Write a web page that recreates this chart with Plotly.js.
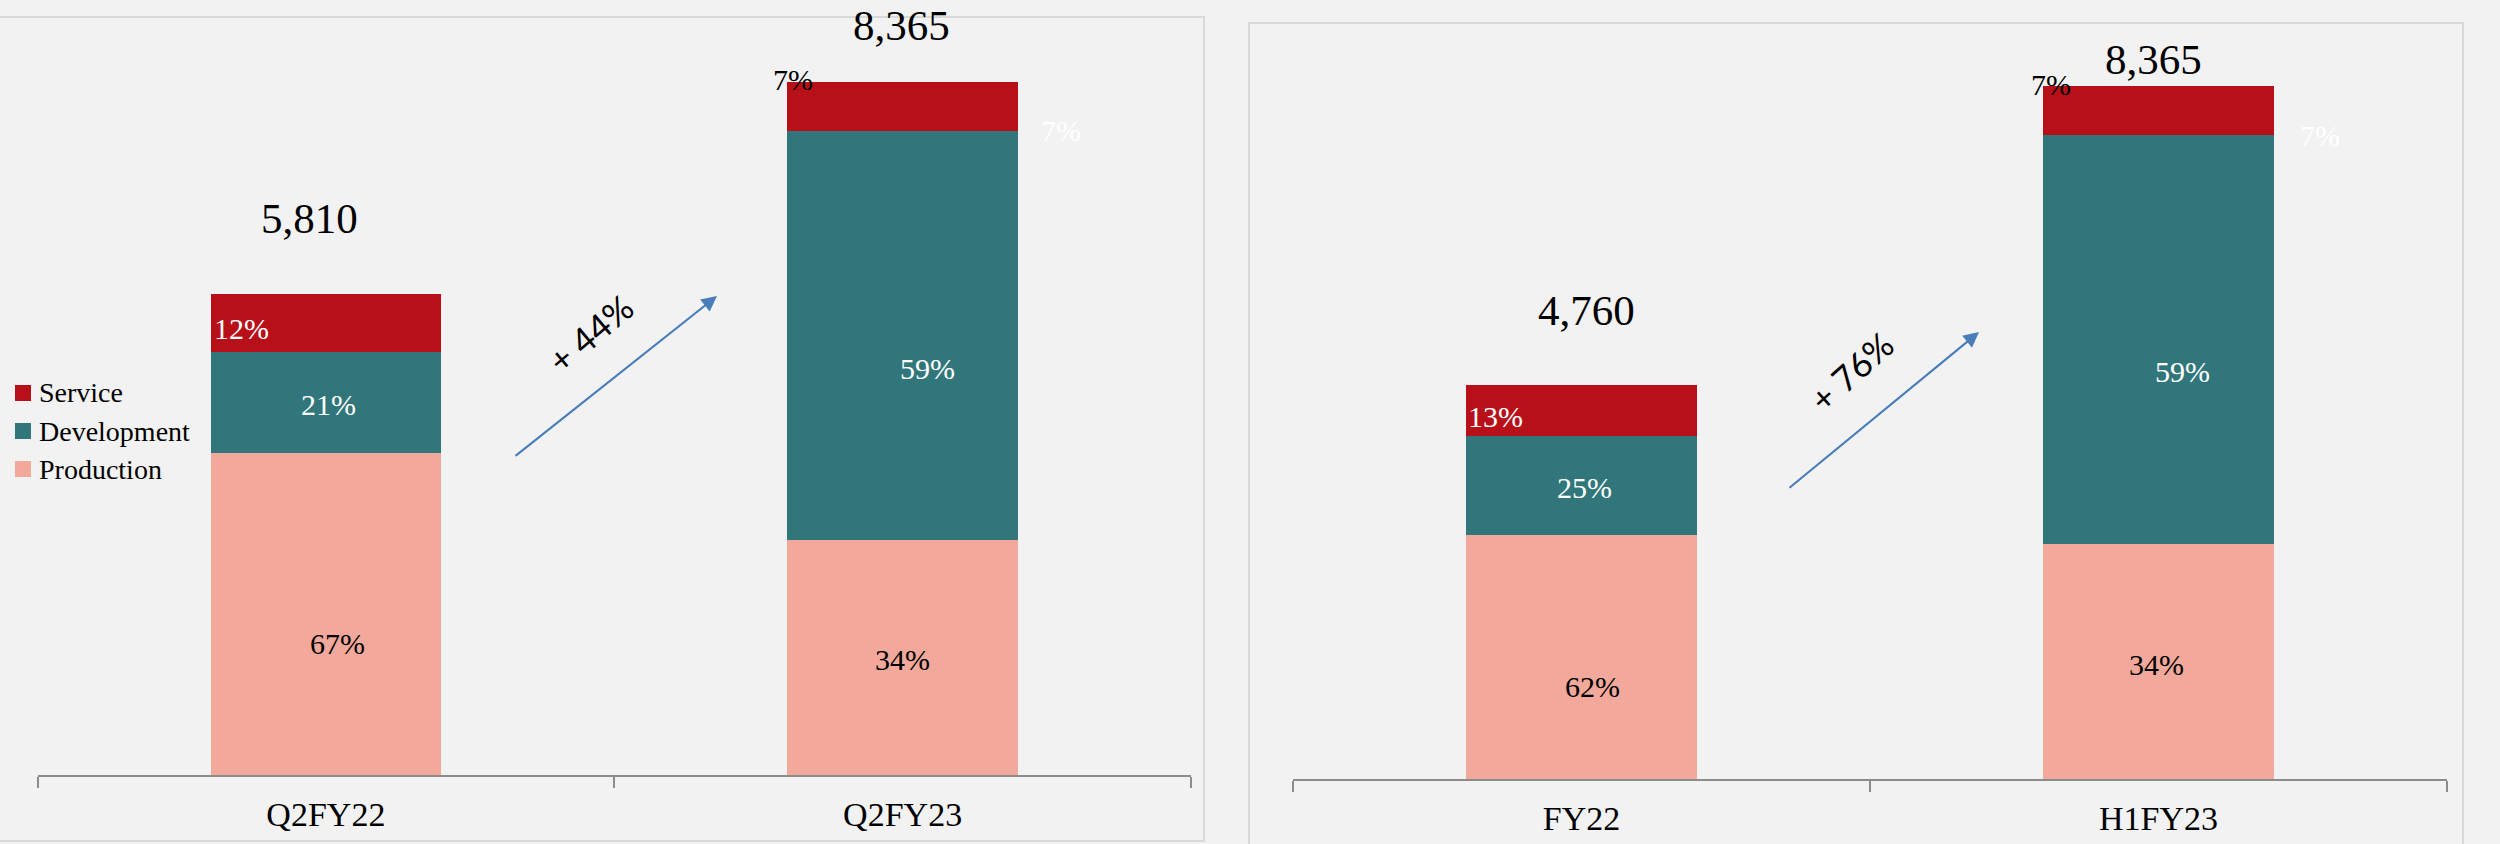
<!DOCTYPE html>
<html>
<head>
<meta charset="utf-8">
<script src="https://cdn.plot.ly/plotly-3.0.1.min.js"></script>
<style>
  html, body { margin: 0; padding: 0; background: #f2f2f2; }
  #chart { width: 2500px; height: 844px; }
</style>
</head>
<body>
<div id="chart"></div>
<script>
// ---- data ----
const seriesNames = ['Production', 'Development', 'Service'];
const categoriesA = ['Q2FY22', 'Q2FY23'];
const totalsA = [5810, 8365];
const productionShareA = [67, 34];
const developmentShareA = [21, 59];
const serviceShareA = [12, 7];
const growthA = '+ 44%';

const categoriesB = ['FY22', 'H1FY23'];
const totalsB = [4760, 8365];
const productionShareB = [62, 34];
const developmentShareB = [25, 59];
const serviceShareB = [13, 7];
const growthB = '+ 76%';

// ---- styles ----
const colors = { Production: '#f2a99b', Development: '#31767b', Service: '#b71018' };
const serif = 'Liberation Serif, Times New Roman, serif';
const sans = 'Lato, Noto Sans, sans-serif';
const W = 2500, H = 844;
const px = x => x / W;
const py = y => 1 - y / H;

function segValues(totals, shares) { return totals.map((t, i) => t * shares[i] / 100); }

function panelTraces(cats, totals, shares, xa, ya) {
  return seriesNames.map((name, k) => ({
    type: 'bar', name: name, x: cats, y: segValues(totals, shares[k]),
    xaxis: xa, yaxis: ya, marker: { color: colors[name], line: { width: 0 } },
    showlegend: false, hoverinfo: 'skip'
  }));
}

const sharesA = [productionShareA, developmentShareA, serviceShareA];
const sharesB = [productionShareB, developmentShareB, serviceShareB];

const data = [
  ...panelTraces(categoriesA, totalsA, sharesA, 'x', 'y'),
  ...panelTraces(categoriesB, totalsB, sharesB, 'x2', 'y2')
];

// label offsets (pixels) per panel / bar / label
const labelStyleA = [
  { prod: [12, -30], dev: [3, -2], serv: [[-84, -6, 'white']], total: [-16, 75] },
  { prod: [0, -2], dev: [25, -33], serv: [[-110, 27, 'black'], [158, -24, 'white']], total: [-1, 57] }
];
const labelStyleB = [
  { prod: [11, -30], dev: [3, -2], serv: [[-86, -6, 'white']], total: [5, 74] },
  { prod: [-2, -3], dev: [24, -32], serv: [[-108, 26, 'black'], [161, -25, 'white']], total: [-5, 27] }
];

function pct(v) { return v + '%'; }

function panelAnnotations(cats, totals, shares, xr, yr, styles) {
  const out = [];
  cats.forEach((c, i) => {
    const vals = shares.map(s => totals[i] * s[i] / 100);
    const st = styles[i];
    const base = { xref: xr, yref: yr, x: c, showarrow: false, xanchor: 'center', yanchor: 'middle' };
    const prodMid = vals[0] / 2;
    const devMid = vals[0] + vals[1] / 2;
    const servMid = vals[0] + vals[1] + vals[2] / 2;
    out.push({ ...base, y: prodMid, text: pct(shares[0][i]), xshift: st.prod[0], yshift: st.prod[1],
      font: { family: serif, size: 30, color: 'black' } });
    out.push({ ...base, y: devMid, text: pct(shares[1][i]), xshift: st.dev[0], yshift: st.dev[1],
      font: { family: serif, size: 30, color: 'white' } });
    st.serv.forEach(s => out.push({ ...base, y: servMid, text: pct(shares[2][i]), xshift: s[0], yshift: s[1],
      font: { family: serif, size: 30, color: s[2] } }));
    out.push({ ...base, y: totals[i], text: totals[i].toLocaleString('en-US'), xshift: st.total[0], yshift: st.total[1],
      font: { family: serif, size: 43, color: 'black' } });
  });
  return out;
}

// custom legend (Service, Development, Production from top)
const legendOrder = seriesNames.slice().reverse();
const legendRowY = [393, 431, 469];
const legendShapes = legendOrder.map((name, i) => ({
  type: 'rect', xref: 'paper', yref: 'paper', layer: 'above',
  x0: px(15), x1: px(31), y0: py(legendRowY[i] + 8), y1: py(legendRowY[i] - 8),
  fillcolor: colors[name], line: { width: 0 }
}));
const legendTexts = legendOrder.map((name, i) => ({
  xref: 'paper', yref: 'paper', x: px(37), y: py(legendRowY[i]), text: name, showarrow: false,
  xanchor: 'left', yanchor: 'middle', font: { family: serif, size: 28, color: 'black' }
}));

const annotations = [
  ...panelAnnotations(categoriesA, totalsA, sharesA, 'x', 'y', labelStyleA),
  ...panelAnnotations(categoriesB, totalsB, sharesB, 'x2', 'y2', labelStyleB),
  ...legendTexts,
  // growth arrows
  { xref: 'paper', yref: 'paper', x: px(717), y: py(296), ax: 514 - 717, ay: 457 - 296, text: '',
    showarrow: true, arrowhead: 2, arrowsize: 1.4, arrowwidth: 2.2, arrowcolor: '#4a7ebb' },
  { xref: 'paper', yref: 'paper', x: px(1979), y: py(332), ax: 1788 - 1979, ay: 489 - 332, text: '',
    showarrow: true, arrowhead: 2, arrowsize: 1.4, arrowwidth: 2.2, arrowcolor: '#4a7ebb' },
  { xref: 'paper', yref: 'paper', x: px(590), y: py(333), text: growthA, showarrow: false, textangle: -40,
    xanchor: 'center', yanchor: 'middle', font: { family: sans, size: 35, color: 'black' } },
  { xref: 'paper', yref: 'paper', x: px(1851), y: py(371), text: growthB, showarrow: false, textangle: -42,
    xanchor: 'center', yanchor: 'middle', font: { family: sans, size: 35, color: 'black' } }
];

const shapes = [
  { type: 'rect', xref: 'paper', yref: 'paper', layer: 'below', x0: px(-10), x1: px(1204), y0: py(841), y1: py(17),
    fillcolor: '#f2f2f2', line: { color: '#d9d9d9', width: 2 } },
  { type: 'rect', xref: 'paper', yref: 'paper', layer: 'below', x0: px(1249), x1: px(2463), y0: py(860), y1: py(23),
    fillcolor: '#f2f2f2', line: { color: '#d9d9d9', width: 2 } },
  ...legendShapes
];

const scale = 0.0828; // px per unit
const xaxisCommon = {
  type: 'category', showline: true, linecolor: '#8c8c8c', linewidth: 2,
  ticks: 'outside', tickson: 'boundaries', ticklen: 11, tickwidth: 2, tickcolor: '#8c8c8c',
  showgrid: false, zeroline: false, fixedrange: true, ticklabelstandoff: 8,
  tickfont: { family: serif, size: 34, color: 'black' }
};
const yaxisCommon = { visible: false, showgrid: false, zeroline: false, fixedrange: true };

const layout = {
  width: W, height: H,
  margin: { l: 0, r: 0, t: 0, b: 0 },
  paper_bgcolor: '#f2f2f2', plot_bgcolor: 'rgba(0,0,0,0)',
  barmode: 'stack', bargap: 0.6,
  xaxis: { ...xaxisCommon, domain: [px(37.5), px(1191)], anchor: 'y' },
  yaxis: { ...yaxisCommon, domain: [py(775), py(26)], range: [0, (775 - 26) / scale], anchor: 'x' },
  xaxis2: { ...xaxisCommon, domain: [px(1293), px(2447)], anchor: 'y2' },
  yaxis2: { ...yaxisCommon, domain: [py(779), py(26)], range: [0, (779 - 26) / scale], anchor: 'x2' },
  showlegend: false,
  annotations: annotations,
  shapes: shapes
};

Plotly.newPlot('chart', data, layout, { displayModeBar: false, staticPlot: true });
</script>
</body>
</html>
